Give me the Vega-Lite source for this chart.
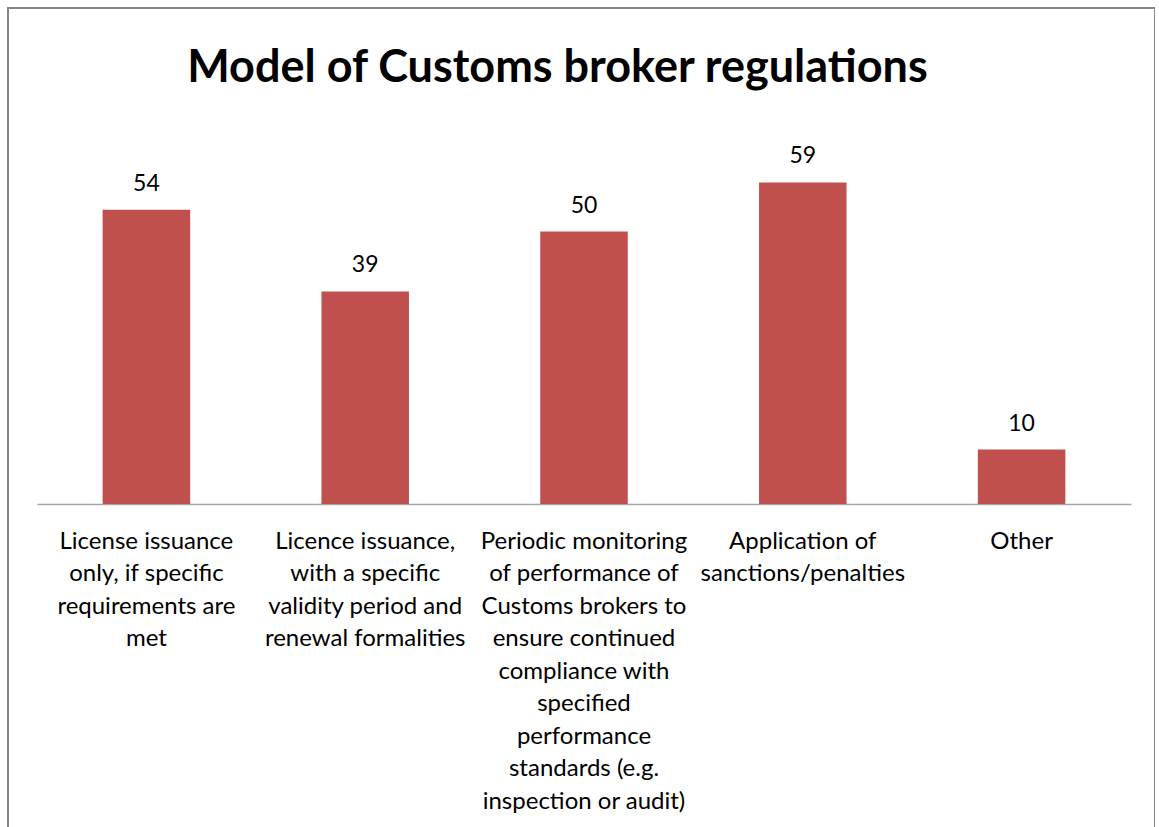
{
  "$schema": "https://vega.github.io/schema/vega-lite/v6.json",
  "width": 1147,
  "height": 830,
  "padding": {"left": 8, "top": 8, "right": 0, "bottom": 0},
  "autosize": {"type": "none"},
  "background": "white",
  "config": {"view": {"stroke": "#868686", "strokeWidth": 2}, "font": "Lato"},
  "title": {
    "text": "Model of Customs broker regulations",
    "font": "Lato",
    "fontSize": 45,
    "fontWeight": "bold",
    "color": "#000000",
    "anchor": "middle",
    "frame": "group",
    "dx": -24,
    "offset": -119,
    "baseline": "alphabetic"
  },
  "data": {
    "values": [
      {"category": "License issuance|only, if specific|requirements are|met", "value": 54},
      {"category": "Licence issuance,|with a specific|validity period and|renewal formalities", "value": 39},
      {"category": "Periodic monitoring|of performance of|Customs brokers to|ensure continued|compliance with|specified|performance|standards (e.g.|inspection or audit)", "value": 50},
      {"category": "Application of|sanctions/penalties", "value": 59},
      {"category": "Other", "value": 10}
    ]
  },
  "encoding": {
    "x": {
      "field": "category",
      "type": "nominal",
      "sort": null,
      "scale": {"range": [29, 1123], "paddingInner": 0.6, "paddingOuter": 0.3},
      "axis": {
        "title": null,
        "orient": "bottom",
        "offset": -334,
        "ticks": false,
        "labelAngle": 0,
        "labelExpr": "split(datum.value, '|')",
        "labelFont": "Lato",
        "labelFontSize": 24,
        "labelColor": "#000000",
        "labelLineHeight": 32.5,
        "labelPadding": 25,
        "labelLimit": 0,
        "labelOverlap": false,
        "labelBound": false,
        "labelBaseline": "top",
        "domainColor": "#a6a6a6",
        "domainWidth": 1.5
      }
    },
    "y": {
      "field": "value",
      "type": "quantitative",
      "scale": {"domain": [0, 70], "range": [496, 114.5], "nice": false, "zero": true},
      "axis": null
    }
  },
  "layer": [
    {"mark": {"type": "bar", "color": "#C0504D"}},
    {
      "mark": {"type": "text", "baseline": "bottom", "dy": -14, "font": "Lato", "fontSize": 23, "color": "#000000"},
      "encoding": {"text": {"field": "value", "type": "quantitative"}}
    }
  ]
}
